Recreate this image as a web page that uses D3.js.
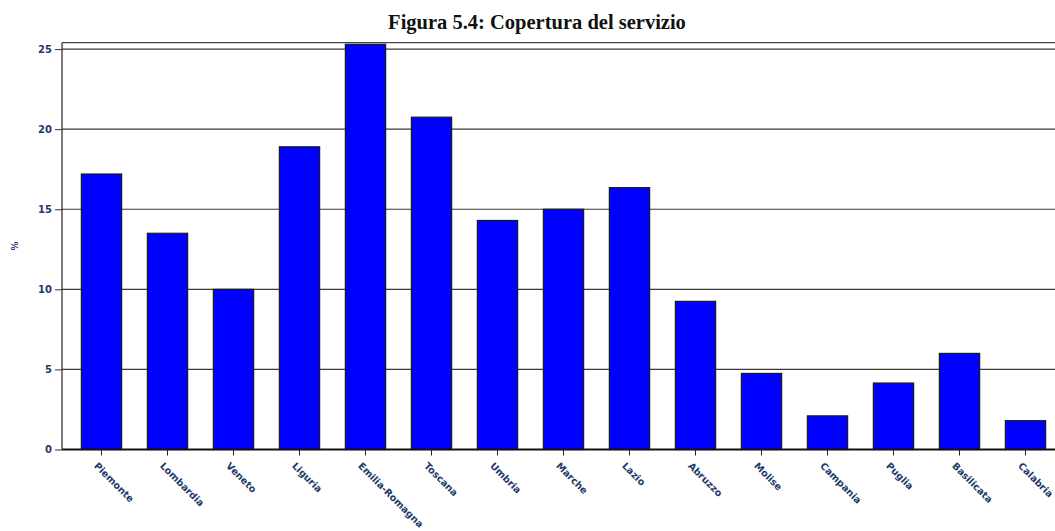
<!DOCTYPE html>
<html><head><meta charset="utf-8">
<script src="https://cdn.jsdelivr.net/npm/d3@7"></script>
<style>body{margin:0;background:#fff;} svg{display:block;}</style>
</head><body>
<svg id="c" width="1055" height="531"></svg>
<script>
const categories = ["Piemonte","Lombardia","Veneto","Liguria","Emilia-Romagna","Toscana","Umbria","Marche","Lazio","Abruzzo","Molise","Campania","Puglia","Basilicata","Calabria"];
const values = [17.2, 13.5, 10.0, 18.9, 25.3, 20.75, 14.3, 15.0, 16.35, 9.25, 4.75, 2.1, 4.15, 6.0, 1.8];
const yTicks = [0, 5, 10, 15, 20, 25];
const title = "Figura 5.4: Copertura del servizio";
const yLabel = "%";

const svg = d3.select("#c");
const pLeft = 62, pTop = 42.7, pBottom = 449.5, pRight = 1058.5;
const navy = "#1d3a6b";
const labelFont = "'DejaVu Sans',Verdana,sans-serif";

const y = d3.scaleLinear().domain([0, 25.4]).range([pBottom, pTop]);
const x = d3.scaleBand().domain(categories).range([68.5, pRight]).paddingInner(0.39).paddingOuter(0.195);

// title (fit to the reference width)
const t = svg.append("text").attr("x", 537).attr("y", 29).attr("text-anchor", "middle")
  .attr("font-family", "'Liberation Serif','Times New Roman',serif")
  .attr("font-weight", "bold").attr("font-size", 20).attr("fill", "#111").text(title);
const tw = t.node().getComputedTextLength();
if (tw > 0) t.attr("font-size", 20 * 298 / tw);

// top border
svg.append("line").attr("x1", pLeft).attr("x2", 1055).attr("y1", pTop).attr("y2", pTop)
  .attr("stroke", "#444").attr("stroke-width", 1.2);

// gridlines
svg.append("g").selectAll("line").data(yTicks.filter(d => d > 0)).join("line")
  .attr("x1", pLeft).attr("x2", 1055).attr("y1", d => y(d)).attr("y2", d => y(d))
  .attr("stroke", "#3a3a3a").attr("stroke-width", 1.2);

// bars
svg.append("g").selectAll("rect").data(values).join("rect")
  .attr("x", (d, i) => x(categories[i]))
  .attr("width", x.bandwidth())
  .attr("y", d => y(d))
  .attr("height", d => y(0) - y(d))
  .attr("fill", "#0000ff").attr("stroke", "#1a1a1a").attr("stroke-width", 1.2);

// y axis
const yAxis = d3.axisLeft(y).tickValues(yTicks).tickSize(7).tickPadding(3);
const gy = svg.append("g").attr("transform", `translate(${pLeft},0)`).call(yAxis);
gy.select(".domain").attr("stroke", "#333").attr("stroke-width", 1.3).attr("d", `M-0,${pBottom}V${pTop}`);
gy.selectAll(".tick line").attr("stroke", "#333");
gy.selectAll(".tick text").attr("fill", navy).attr("font-family", labelFont)
  .attr("font-weight", "bold").attr("font-size", 10);

// x axis
const xAxis = d3.axisBottom(x).tickSize(6).tickPadding(4);
const gx = svg.append("g").attr("transform", `translate(0,${pBottom})`).call(xAxis);
gx.select(".domain").attr("stroke", "#111").attr("stroke-width", 2).attr("d", `M${pLeft},0H1055`);
gx.selectAll(".tick line").attr("stroke", "#222");
gx.selectAll(".tick text").attr("fill", navy).attr("font-family", labelFont)
  .attr("font-weight", "bold").attr("font-size", 9.6)
  .attr("text-anchor", "start").attr("dy", null).attr("y", 0)
  .attr("transform", "translate(-8,17) rotate(45)");

// y label
svg.append("text").attr("transform", "translate(18,246) rotate(-90)")
  .attr("text-anchor", "middle").attr("fill", navy)
  .attr("font-family", labelFont).attr("font-weight", "bold").attr("font-size", 9)
  .text(yLabel);
</script>
</body></html>
